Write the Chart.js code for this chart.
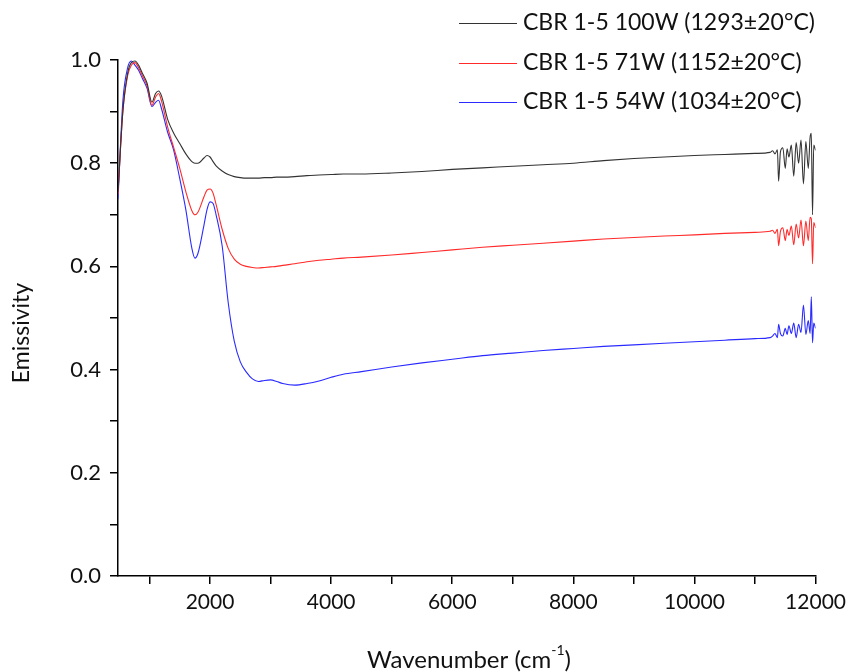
<!DOCTYPE html>
<html lang="en">
<head>
    <meta charset="UTF-8">
    <title>Emissivity vs Wavenumber</title>
    <script src="https://cdn.jsdelivr.net/npm/chart.js"></script>
    <style>
        html, body { margin: 0; padding: 0; background: #fff; }
        #wrap { width: 852px; height: 672px; }
    </style>
</head>
<body>
    <div id="wrap"><canvas id="emChart" width="852" height="672"></canvas></div>

    <script>
        // wavenumber (cm-1) sample positions
        const wavenumbers = [
            480, 560, 640, 700, 760, 820, 880, 960, 1040, 1100,
            1150, 1200, 1300, 1400, 1500, 1600, 1700, 1750, 1800, 1900,
            1950, 2000, 2050, 2100, 2200, 2300, 2400, 2500, 2600, 2700,
            2800, 2900, 3000, 3100, 3200, 3400, 3600, 3800, 4000, 4200,
            4500, 5000, 5500, 6000, 6500, 7000, 7500, 8000, 8500, 9000,
            9500, 10000, 10500, 11000, 11250,
            11290, 11330, 11370, 11390, 11420, 11460, 11500, 11530, 11560, 11600,
            11640, 11680, 11720, 11760, 11800, 11840, 11880, 11910, 11930, 11950,
            11970, 12000
        ];

        const emis100W = [
            0.745, 0.900, 0.975, 0.995, 0.998, 0.990, 0.975, 0.955, 0.918, 0.935,
            0.940, 0.930, 0.885, 0.858, 0.838, 0.818, 0.803, 0.800, 0.800, 0.810,
            0.815, 0.812, 0.803, 0.795, 0.785, 0.778, 0.774, 0.772, 0.771, 0.771,
            0.771, 0.772, 0.772, 0.773, 0.773, 0.774, 0.776, 0.777, 0.778, 0.779,
            0.779, 0.781, 0.784, 0.788, 0.791, 0.794, 0.797, 0.800, 0.805, 0.809,
            0.812, 0.815, 0.817, 0.819, 0.821,
            0.824, 0.818, 0.826, 0.765, 0.822, 0.830, 0.790, 0.828, 0.812, 0.835,
            0.775, 0.840, 0.800, 0.845, 0.760, 0.842, 0.790, 0.850, 0.858, 0.700,
            0.835, 0.825
        ];

        const emis71W = [
            0.740, 0.900, 0.970, 0.990, 0.995, 0.985, 0.970, 0.950, 0.912, 0.928,
            0.935, 0.920, 0.870, 0.830, 0.790, 0.745, 0.708, 0.700, 0.705, 0.735,
            0.748, 0.750, 0.742, 0.720, 0.672, 0.635, 0.614, 0.604, 0.600, 0.598,
            0.597, 0.598, 0.599, 0.600, 0.602, 0.605, 0.609, 0.612, 0.614, 0.616,
            0.618, 0.622, 0.627, 0.632, 0.637, 0.641, 0.645, 0.649, 0.653, 0.656,
            0.659, 0.661, 0.664, 0.666, 0.668,
            0.670, 0.664, 0.672, 0.640, 0.668, 0.675, 0.650, 0.672, 0.660, 0.678,
            0.642, 0.682, 0.655, 0.690, 0.640, 0.688, 0.650, 0.695, 0.692, 0.605,
            0.685, 0.675
        ];

        const emis54W = [
            0.730, 0.920, 0.985, 0.998, 0.990, 0.980, 0.965, 0.945, 0.910, 0.918,
            0.922, 0.905, 0.860, 0.825, 0.770, 0.710, 0.635, 0.616, 0.625, 0.680,
            0.710, 0.725, 0.722, 0.700, 0.640, 0.530, 0.455, 0.415, 0.395, 0.382,
            0.377, 0.379, 0.380, 0.377, 0.373, 0.370, 0.373, 0.378, 0.385, 0.391,
            0.396, 0.405, 0.413, 0.420, 0.427, 0.432, 0.437, 0.441, 0.445, 0.448,
            0.451, 0.454, 0.457, 0.460, 0.462,
            0.465, 0.470, 0.462, 0.488, 0.470, 0.465, 0.480, 0.468, 0.485, 0.470,
            0.490, 0.462, 0.488, 0.472, 0.525, 0.468, 0.495, 0.470, 0.541, 0.452,
            0.490, 0.480
        ];

        const seriesLabels = [
            'CBR 1-5 100W (1293\u00B120\u00B0C)',
            'CBR 1-5 71W (1152\u00B120\u00B0C)',
            'CBR 1-5 54W (1034\u00B120\u00B0C)'
        ];
        const seriesColors = ['#333333', '#ff2a2a', '#2a2aff'];

        const xTicks = [1000, 2000, 3000, 4000, 5000, 6000, 7000, 8000, 9000, 10000, 11000, 12000];

        const FONT = 'Lato, "Open Sans", sans-serif';

        function toPoints(ys) {
            return wavenumbers.map((x, i) => ({ x: x, y: ys[i] }));
        }

        // legend + axis titles drawn by hand
        const decorPlugin = {
            id: 'decor',
            afterDraw(chart) {
                const ctx = chart.ctx;
                ctx.save();
                ctx.fillStyle = '#111';
                ctx.textBaseline = 'middle';

                // legend
                const rows = [23, 63, 102];
                chart.data.datasets.forEach((ds, i) => {
                    ctx.strokeStyle = ds.borderColor;
                    ctx.lineWidth = 1;
                    ctx.beginPath();
                    ctx.moveTo(459, rows[i] + 0.5);
                    ctx.lineTo(517, rows[i] + 0.5);
                    ctx.stroke();
                    ctx.font = '23px ' + FONT;
                    ctx.textAlign = 'left';
                    ctx.fillText(ds.label, 523, rows[i]);
                });

                // x title with superscript
                ctx.font = '24px ' + FONT;
                const main = 'Wavenumber (cm';
                const sup = '-1';
                const wMain = ctx.measureText(main).width;
                ctx.font = '14px ' + FONT;
                const wSup = ctx.measureText(sup).width;
                ctx.font = '24px ' + FONT;
                const wEnd = ctx.measureText(')').width;
                const x0 = 469 - (wMain + wSup + wEnd) / 2;
                ctx.textAlign = 'left';
                ctx.fillText(main, x0, 660);
                ctx.font = '14px ' + FONT;
                ctx.fillText(sup, x0 + wMain, 650);
                ctx.font = '24px ' + FONT;
                ctx.fillText(')', x0 + wMain + wSup, 660);

                // y title
                ctx.font = '23px ' + FONT;
                ctx.translate(22, 333);
                ctx.rotate(-Math.PI / 2);
                ctx.textAlign = 'center';
                ctx.fillText('Emissivity', 0, 0);
                ctx.restore();
            }
        };

        new Chart(document.getElementById('emChart'), {
            type: 'line',
            data: {
                datasets: [
                    { label: seriesLabels[0], data: toPoints(emis100W), borderColor: seriesColors[0] },
                    { label: seriesLabels[1], data: toPoints(emis71W), borderColor: seriesColors[1] },
                    { label: seriesLabels[2], data: toPoints(emis54W), borderColor: seriesColors[2] }
                ]
            },
            options: {
                responsive: false,
                animation: false,
                events: [],
                layout: { padding: { left: 0, right: 35, top: 60, bottom: 0 } },
                elements: {
                    line: { borderWidth: 1.1, tension: 0, cubicInterpolationMode: 'monotone' },
                    point: { radius: 0 }
                },
                plugins: {
                    legend: { display: false },
                    tooltip: { enabled: false }
                },
                scales: {
                    x: {
                        type: 'linear',
                        min: 480,
                        max: 12000,
                        afterBuildTicks(scale) {
                            scale.ticks = xTicks.map(v => ({ value: v }));
                        },
                        afterFit(scale) { scale.height = 96; },
                        border: { display: true, color: '#000', width: 1.5 },
                        grid: { drawOnChartArea: false, drawTicks: true, tickLength: 8, color: '#000', lineWidth: 1.5 },
                        ticks: {
                            color: '#111',
                            font: { family: FONT, size: 21 },
                            padding: 6,
                            maxRotation: 0,
                            autoSkip: false,
                            callback: v => (v % 2000 === 0 ? String(v) : '')
                        }
                    },
                    y: {
                        min: 0,
                        max: 1,
                        afterFit(scale) { scale.width = 118; },
                        border: { display: true, color: '#000', width: 1.5 },
                        grid: { drawOnChartArea: false, drawTicks: true, tickLength: 8, color: '#000', lineWidth: 1.5 },
                        ticks: {
                            stepSize: 0.1,
                            color: '#111',
                            font: { family: FONT, size: 22 },
                            padding: 9,
                            autoSkip: false,
                            callback: v => (Math.round(v * 10) % 2 === 0 ? v.toFixed(1) : '')
                        }
                    }
                }
            },
            plugins: [decorPlugin]
        });
    </script>
</body>
</html>
